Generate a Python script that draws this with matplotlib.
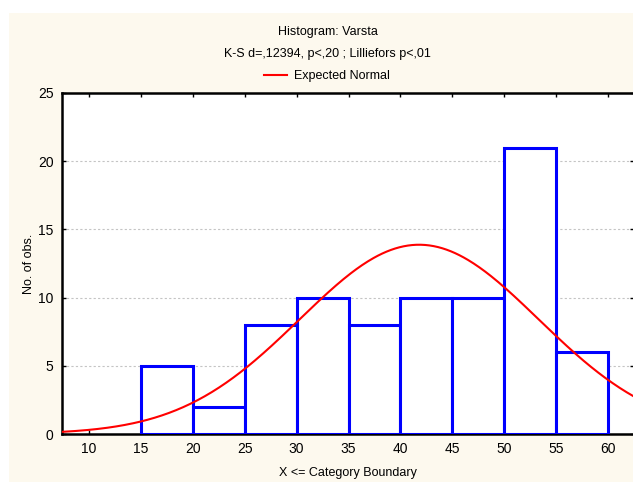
import numpy as np
import matplotlib
matplotlib.use("Agg")
import matplotlib.pyplot as plt
from matplotlib.patches import Rectangle

plt.rcParams["font.family"] = ["Liberation Sans", "DejaVu Sans"]

# Data
bin_left = [15, 20, 25, 30, 35, 40, 45, 50, 55]
bin_width = 5
counts = [5, 2, 8, 10, 8, 10, 10, 21, 6]
xticks = [10, 15, 20, 25, 30, 35, 40, 45, 50, 55, 60]
yticks = [0, 5, 10, 15, 20, 25]
fit_mean = 41.8
fit_sd = 11.5
n_obs = sum(counts)

W, H = 633, 482
fig = plt.figure(figsize=(W / 100, H / 100), dpi=100)
fig.patch.set_facecolor("white")
cream = "#FDF9EE"
fig.patches.append(Rectangle((9 / W, 0), 1 - 9 / W, 1 - 13 / H, transform=fig.transFigure,
                             facecolor=cream, edgecolor="none", zorder=-10))

ax = fig.add_axes([62 / W, 1 - 434 / H, (634 - 62) / W, (434 - 93) / H])
ax.set_facecolor("white")

for l, c in zip(bin_left, counts):
    ax.add_patch(Rectangle((l, 0), bin_width, c, facecolor="white", edgecolor="#0000FF",
                           linewidth=2.2, zorder=3))

x = np.linspace(7.5, 62.5, 400)
y = n_obs * bin_width / (fit_sd * np.sqrt(2 * np.pi)) * np.exp(-0.5 * ((x - fit_mean) / fit_sd) ** 2)
line, = ax.plot(x, y, color="#FF0000", linewidth=1.5, zorder=4, label="Expected Normal")

ax.set_xlim(7.4, 62.5)
ax.set_ylim(0, 25)
ax.set_xticks(xticks)
ax.set_yticks(yticks)
ax.tick_params(direction="in", top=True, right=True, length=3, width=1, labelsize=10)
ax.tick_params(axis="x", labeltop=False, pad=6)
ax.tick_params(axis="y", labelright=False, pad=6)
for v in yticks[1:-1]:
    ax.axhline(v, color="#C4C4C4", linewidth=0.8, linestyle=(0, (2, 2)), zorder=1)

for s in ["left", "bottom", "top"]:
    ax.spines[s].set_linewidth(1.8)
    ax.spines[s].set_color("black")
ax.spines["right"].set_visible(False)

ax.set_xlabel("X <= Category Boundary", fontsize=9, labelpad=8)
ax.set_ylabel("No. of obs.", fontsize=9, labelpad=2)

fig.text(328 / W, 1 - 32 / H, "Histogram: Varsta", ha="center", va="center", fontsize=9)
fig.text(327 / W, 1 - 54 / H, "K-S d=,12394, p<,20 ; Lilliefors p<,01", ha="center", va="center", fontsize=9)
fig.legend(handles=[line], loc="center", bbox_to_anchor=(327 / W, 1 - 76 / H), frameon=False,
           fontsize=9, handlelength=1.8, handletextpad=0.55)

fig.savefig("out.png", dpi=100, facecolor=fig.get_facecolor())
